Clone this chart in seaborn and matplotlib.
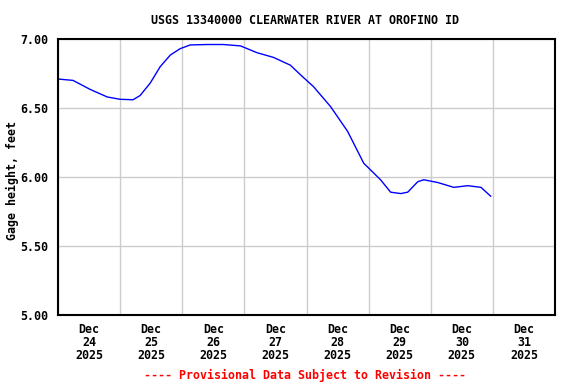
import matplotlib
matplotlib.use("Agg")
import matplotlib.pyplot as plt
import matplotlib.ticker as mticker
import seaborn as sns
import pandas as pd

#Gage height readings (hours after Dec 24 00:00, feet)
hours = [0, 5.8, 12.4, 19, 24, 29, 31.7, 35.6, 39.5, 43.4, 47.2, 51.1,
         57.7, 63.9, 70.5, 77, 83.2, 89.8, 93.7, 98.7, 105.3, 111.9, 118.1,
         124.6, 128.5, 132.4, 135.1, 139, 141.3, 146.7, 152.9, 158.3, 163.4, 167.2]
gage_ft = [6.71, 6.70, 6.635, 6.58, 6.563, 6.56, 6.59, 6.68, 6.80, 6.884, 6.93, 6.957,
           6.96, 6.96, 6.95, 6.90, 6.867, 6.81, 6.74, 6.655, 6.51, 6.33, 6.10,
           5.98, 5.89, 5.88, 5.89, 5.966, 5.98, 5.96, 5.925, 5.937, 5.925, 5.86]
day_labels = ["Dec\n24\n2025", "Dec\n25\n2025", "Dec\n26\n2025", "Dec\n27\n2025",
              "Dec\n28\n2025", "Dec\n29\n2025", "Dec\n30\n2025", "Dec\n31\n2025"]

start = pd.Timestamp("2025-12-24")
df = pd.DataFrame({
    "time": start + pd.to_timedelta(hours, unit="h"),
    "gage": gage_ft,
})

sns.set_style("white")
plt.rcParams["font.family"] = ["DejaVu Sans Mono"]
plt.rcParams["font.weight"] = "bold"
plt.rcParams["text.color"] = "black"
plt.rcParams["xtick.color"] = "black"
plt.rcParams["ytick.color"] = "black"
FS = 8.4

fig = plt.figure(figsize=(5.76, 3.84), dpi=100)
ax = fig.add_axes([58 / 576, 1 - 315 / 384, (555 - 58) / 576, (315 - 39) / 384])

sns.lineplot(data=df, x="time", y="gage", ax=ax, color="#0000ff", linewidth=1.0)

ax.set_xlim(start, start + pd.Timedelta(days=8))
ax.set_ylim(5.0, 7.0)

#Grid at midnight, labels at noon
midnights = [start + pd.Timedelta(days=i) for i in range(9)]
noons = [start + pd.Timedelta(days=i, hours=12) for i in range(8)]
ax.set_xticks(midnights)
ax.set_xticklabels([])
ax.set_xticks(noons, minor=True)
ax.set_xticklabels(day_labels, minor=True, fontsize=FS, fontweight="bold", linespacing=1.0)
ax.tick_params(axis="x", which="both", length=0)
ax.tick_params(axis="x", which="minor", pad=6)

ax.set_yticks([5.0, 5.5, 6.0, 6.5, 7.0])
ax.yaxis.set_major_formatter(mticker.FormatStrFormatter("%.2f"))
ax.tick_params(axis="y", length=0, pad=7, labelsize=FS)

ax.grid(True, which="major", color="#cccccc", linewidth=1.0)
for s in ax.spines.values():
    s.set_color("black")
    s.set_linewidth(1.5)

ax.set_xlabel("")
ax.set_ylabel("")
fig.text(12 / 576, 1 - 180 / 384, "Gage height, feet", rotation=90,
         ha="center", va="center", fontsize=FS, fontweight="bold")
fig.text(305 / 576, 1 - 20 / 384, "USGS 13340000 CLEARWATER RIVER AT OROFINO ID",
         ha="center", va="center", fontsize=FS, fontweight="bold")
fig.text(305 / 576, 1 - 375 / 384, "---- Provisional Data Subject to Revision ----",
         ha="center", va="center", fontsize=FS, fontweight="bold", color="red")

fig.savefig("out.png", dpi=100)
